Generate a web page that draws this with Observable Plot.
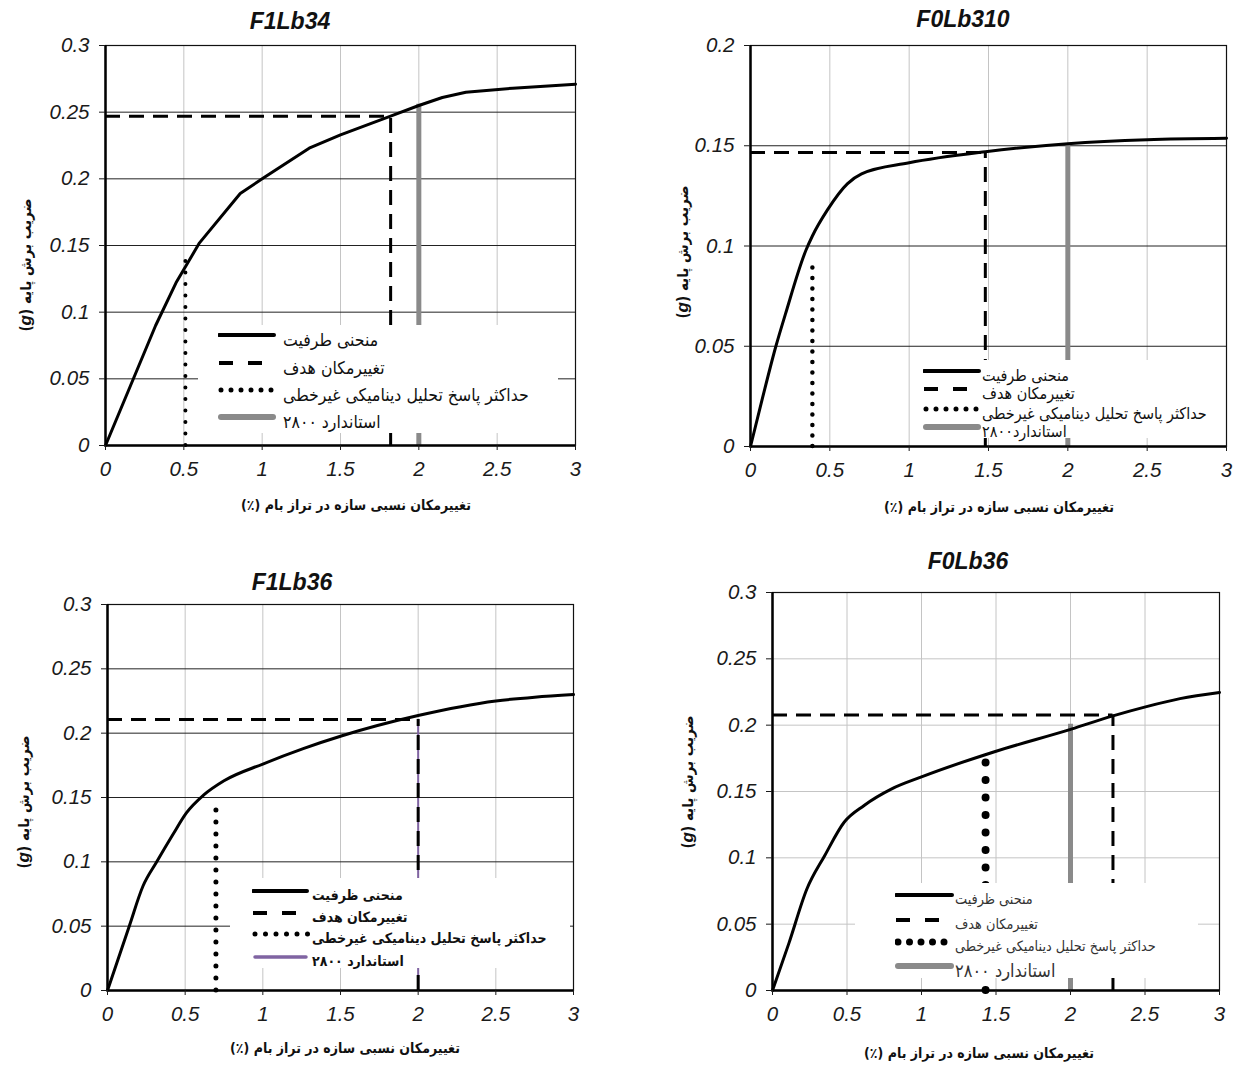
<!DOCTYPE html>
<html>
<head>
<meta charset="utf-8">
<script src="https://cdn.jsdelivr.net/npm/d3@7"></script>
<script src="https://cdn.jsdelivr.net/npm/@observablehq/plot@0.6"></script>
<style>
  html, body { margin: 0; padding: 0; background: #fff; }
  #root { position: relative; width: 1238px; height: 1066px; overflow: hidden; background: #fff; }
  .plotwrap { position: absolute; }
  .title { position: absolute; transform: translate(-50%, -50%); font-family: "Liberation Sans", Arial, sans-serif; font-weight: bold; font-style: italic; font-size: 23px; color: #111; white-space: nowrap; }
  .xlab { position: absolute; transform: translate(-50%, -50%); font-family: "DejaVu Sans", sans-serif; font-weight: bold; font-size: 14px; color: #111; white-space: nowrap; font-stretch: condensed; }
  .ylab { position: absolute; transform: translate(-50%, -50%) rotate(-90deg); font-family: "DejaVu Sans", sans-serif; font-weight: bold; font-size: 15px; color: #111; white-space: nowrap; font-stretch: condensed; }
  .ylab i { font-family: "Liberation Sans", Arial, sans-serif; font-weight: bold; font-style: italic; font-size: 17px; }
  .legend { position: absolute; background: #fff; }
  .legend .txt { position: absolute; font-family: "DejaVu Sans", sans-serif; white-space: nowrap; direction: rtl; transform: translateY(-50%); font-stretch: condensed; color: #111; }
</style>
</head>
<body>
<div id="root"></div>
<script>
// ---------- shared ticks / labels ----------
const xTicks = [0, 0.5, 1, 1.5, 2, 2.5, 3];
const yTicks03 = [0, 0.05, 0.1, 0.15, 0.2, 0.25, 0.3];
const yTicks02 = [0, 0.05, 0.1, 0.15, 0.2];
const xLabel = "تغییرمکان نسبی سازه در تراز بام (٪)";
const yLabel = "ضریب برش پایه";
const legendCapacityA = "منحنی طرفیت";
const legendCapacityB = "منحنی ظرفیت";
const legendTarget = "تغییرمکان هدف";
const legendNonlinear = "حداکثر پاسخ تحلیل دینامیکی غیرخطی";
const legendStandardA = "استاندارد ۲۸۰۰";
const legendStandardB = "استاندارد۲۸۰۰";

// ---------- panel 1: F1Lb34 ----------
const p1Title = "F1Lb34";
const p1Drift = [0, 0.16, 0.32, 0.45, 0.6, 0.86, 1.0, 1.3, 1.5, 1.82, 2.0, 2.15, 2.3, 2.6, 3.0];
const p1Shear = [0, 0.045, 0.09, 0.122, 0.152, 0.189, 0.2, 0.223, 0.233, 0.247, 0.255, 0.261, 0.265, 0.268, 0.271];
const p1Target = [1.82, 0.247];
const p1Nonlinear = [0.51, 0.146];
const p1Standard = [2.0, 0.256];

// ---------- panel 2: F0Lb310 ----------
const p2Title = "F0Lb310";
const p2Drift = [0, 0.075, 0.16, 0.22, 0.35, 0.39, 0.485, 0.61, 0.7, 1.0, 1.48, 2.0, 2.5, 3.0];
const p2Shear = [0, 0.024, 0.05, 0.066, 0.098, 0.105, 0.118, 0.131, 0.136, 0.1415, 0.147, 0.151, 0.153, 0.1537];
const p2Target = [1.48, 0.1466];
const p2Nonlinear = [0.39, 0.094];
const p2Standard = [2.0, 0.151];

// ---------- panel 3: F1Lb36 ----------
const p3Title = "F1Lb36";
const p3Drift = [0, 0.14, 0.228, 0.317, 0.42, 0.508, 0.62, 0.75, 1.0, 1.26, 1.51, 2.0, 2.5, 2.75, 3.0];
const p3Shear = [0, 0.05, 0.081, 0.1, 0.121, 0.138, 0.152, 0.163, 0.176, 0.188, 0.198, 0.2137, 0.225, 0.228, 0.23];
const p3Target = [2.0, 0.2106];
const p3Nonlinear = [0.698, 0.143];
const p3Standard = [2.0, 0.2106];

// ---------- panel 4: F0Lb36 ----------
const p4Title = "F0Lb36";
const p4Drift = [0, 0.111, 0.23, 0.35, 0.482, 0.615, 0.8, 1.0, 1.49, 2.006, 2.285, 2.51, 2.735, 3.0];
const p4Shear = [0, 0.0359, 0.0763, 0.1016, 0.127, 0.1395, 0.152, 0.161, 0.18, 0.197, 0.207, 0.214, 0.22, 0.2247];
const p4Target = [2.285, 0.2077];
const p4Nonlinear = [1.43, 0.178];
const p4Standard = [2.0, 0.2007];

const root = document.getElementById("root");

function addDiv(cls, html, left, top, extraStyle) {
  const d = document.createElement("div");
  d.className = cls;
  d.innerHTML = html;
  d.style.left = left + "px";
  d.style.top = top + "px";
  if (extraStyle) Object.assign(d.style, extraStyle);
  root.appendChild(d);
  return d;
}

function panel(cfg) {
  const data = cfg.drift.map((x, i) => ({x, y: cfg.shear[i]}));
  const [tx, ty] = cfg.target;
  const [nx, ny] = cfg.nonlinear;
  const [sx, sy] = cfg.standard;
  const plot = Plot.plot({
    width: cfg.W, height: cfg.H,
    marginLeft: cfg.mL, marginRight: cfg.mR, marginTop: cfg.mT, marginBottom: cfg.mB,
    x: {domain: [0, 3]},
    y: {domain: cfg.yDomain},
    style: {fontFamily: "'Liberation Sans', Arial, sans-serif", fontSize: "20.5px", fontStyle: "italic", color: "#1a1a1a", background: "transparent", overflow: "visible"},
    marks: [
      Plot.gridX(xTicks, {stroke: "#c4c4c4", strokeOpacity: 1, strokeWidth: 1}),
      Plot.gridY(cfg.yTicks, {stroke: cfg.hGrid, strokeOpacity: 1, strokeWidth: 1}),
      Plot.frame({stroke: "#111", strokeWidth: 1.2}),
      Plot.ruleX([{x: sx, y: sy}], {x: "x", y1: 0, y2: "y", stroke: cfg.stdColor, strokeWidth: cfg.stdWidth}),
      Plot.ruleX([{x: nx, y: ny}], {x: "x", y1: 0, y2: "y", stroke: "#000", strokeWidth: cfg.dotSize, strokeDasharray: `0 ${cfg.dotGap}`, strokeLinecap: "round"}),
      Plot.ruleY([{x: tx, y: ty}], {y: "y", x1: 0, x2: "x", stroke: "#000", strokeWidth: 3, strokeDasharray: "15 9"}),
      Plot.ruleX([{x: tx, y: ty}], {x: "x", y1: 0, y2: "y", stroke: "#000", strokeWidth: 3, strokeDasharray: "15 9"}),
      Plot.line(data, {x: "x", y: "y", stroke: "#000", strokeWidth: 3, curve: cfg.curve}),
      Plot.ruleX([0], {stroke: "#000", strokeWidth: 2.5}),
      Plot.ruleY([0], {stroke: "#000", strokeWidth: 2.5}),
      Plot.axisX({ticks: xTicks, tickSize: 5, tickPadding: 11, tickFormat: d => String(d), label: null}),
      Plot.axisY({ticks: cfg.yTicks, tickSize: 6, tickPadding: 10, tickFormat: d => String(d), label: null})
    ]
  });
  const wrap = document.createElement("div");
  wrap.className = "plotwrap";
  wrap.style.left = cfg.L + "px";
  wrap.style.top = cfg.T + "px";
  wrap.appendChild(plot);
  root.appendChild(wrap);

  addDiv("title", cfg.title, cfg.titleX, cfg.titleY);
  addDiv("xlab", xLabel, cfg.xlabX, cfg.xlabY, {direction: "rtl"});
  addDiv("ylab", `<span dir="rtl">${yLabel} (<i>g</i>)</span>`, cfg.ylabX, cfg.ylabY);

  // legend box
  const lg = cfg.legend;
  const box = addDiv("legend", "", lg.x, lg.y, {width: lg.w + "px", height: lg.h + "px"});
  const items = [
    {text: cfg.capText, kind: "solid"},
    {text: legendTarget, kind: "dash"},
    {text: legendNonlinear, kind: "dot"},
    {text: cfg.stdText, kind: "std"}
  ];
  items.forEach((it, i) => {
    const ry = lg.rows[i];
    const sw = lg.sw;
    let line = "";
    if (it.kind === "solid") line = `<line x1="1" x2="${sw - 1}" y1="6" y2="6" stroke="#000" stroke-width="4" stroke-linecap="round"/>`;
    if (it.kind === "dash") line = `<line x1="1" x2="${sw - 10}" y1="6" y2="6" stroke="#000" stroke-width="4" stroke-dasharray="14 15"/>`;
    if (it.kind === "dot") line = `<line x1="3" x2="${sw}" y1="6" y2="6" stroke="#000" stroke-width="${lg.dot}" stroke-dasharray="0 ${lg.dotGap}" stroke-linecap="round"/>`;
    if (it.kind === "std") line = `<line x1="3" x2="${sw - 2}" y1="6" y2="6" stroke="${cfg.stdColor}" stroke-width="${cfg.legendStdWidth}" stroke-linecap="round"/>`;
    const s = document.createElementNS("http://www.w3.org/2000/svg", "svg");
    s.setAttribute("width", sw + 2);
    s.setAttribute("height", 12);
    s.style.position = "absolute";
    s.style.left = lg.sx + "px";
    s.style.top = (ry - 6) + "px";
    s.innerHTML = line;
    box.appendChild(s);
    const t = document.createElement("div");
    t.className = "txt";
    t.textContent = it.text;
    t.style.left = lg.tx + "px";
    t.style.top = (ry + lg.tdy) + "px";
    t.style.fontSize = (i === 3 && lg.lastFont ? lg.lastFont : lg.font) + "px";
    t.style.fontWeight = lg.weight;
    t.style.color = lg.color;
    box.appendChild(t);
  });
}

panel({
  title: p1Title, drift: p1Drift, shear: p1Shear, target: p1Target, nonlinear: p1Nonlinear, standard: p1Standard,
  L: 0, T: 0, W: 619, H: 530, mL: 105, mR: 44, mT: 45, mB: 85,
  yDomain: [0, 0.3], yTicks: yTicks03, hGrid: "#222", curve: "linear",
  stdColor: "#8a8a8a", stdWidth: 5, legendStdWidth: 6, dotSize: 4, dotGap: 11.5,
  titleX: 290, titleY: 21, xlabX: 356, xlabY: 505, ylabX: 26, ylabY: 265,
  capText: legendCapacityA, stdText: legendStandardA,
  legend: {x: 198, y: 325, w: 360, h: 108, sx: 20, sw: 57, tx: 85, rows: [10, 38, 65, 92], tdy: 5, font: 17.5, weight: "normal", color: "#111", dot: 5, dotGap: 10}
});

panel({
  title: p2Title, drift: p2Drift, shear: p2Shear, target: p2Target, nonlinear: p2Nonlinear, standard: p2Standard,
  L: 619, T: 0, W: 619, H: 530, mL: 131, mR: 12, mT: 45, mB: 84,
  yDomain: [0, 0.2], yTicks: yTicks02, hGrid: "#222", curve: "monotone-x",
  stdColor: "#8a8a8a", stdWidth: 5, legendStdWidth: 6, dotSize: 4.5, dotGap: 10.5,
  titleX: 963, titleY: 19, xlabX: 999, xlabY: 507, ylabX: 683, ylabY: 252,
  capText: legendCapacityA, stdText: legendStandardB,
  legend: {x: 915, y: 360, w: 300, h: 78, sx: 8, sw: 57, tx: 67, rows: [11, 29, 49, 67], tdy: 4, font: 16, weight: "normal", color: "#111", dot: 5, dotGap: 10}
});

panel({
  title: p3Title, drift: p3Drift, shear: p3Shear, target: p3Target, nonlinear: p3Nonlinear, standard: p3Standard,
  L: 0, T: 540, W: 619, H: 526, mL: 107, mR: 46, mT: 64, mB: 76,
  yDomain: [0, 0.3], yTicks: yTicks03, hGrid: "#222", curve: "monotone-x",
  stdColor: "#8064a2", stdWidth: 2, legendStdWidth: 3.5, dotSize: 5, dotGap: 12,
  titleX: 292, titleY: 582, xlabX: 345, xlabY: 1048, ylabX: 24, ylabY: 802,
  capText: legendCapacityB, stdText: legendStandardA,
  legend: {x: 230, y: 878, w: 340, h: 90, sx: 22, sw: 56, tx: 82, rows: [13, 35, 56, 79], tdy: 4, font: 14, weight: "bold", color: "#111", dot: 5, dotGap: 10.5}
});

panel({
  title: p4Title, drift: p4Drift, shear: p4Shear, target: p4Target, nonlinear: p4Nonlinear, standard: p4Standard,
  L: 619, T: 540, W: 619, H: 526, mL: 153, mR: 19, mT: 52, mB: 76,
  yDomain: [0, 0.3], yTicks: yTicks03, hGrid: "#c4c4c4", curve: "monotone-x",
  stdColor: "#8a8a8a", stdWidth: 5, legendStdWidth: 6, dotSize: 8, dotGap: 17.5,
  titleX: 968, titleY: 561, xlabX: 979, xlabY: 1053, ylabX: 688, ylabY: 782,
  capText: legendCapacityB, stdText: legendStandardA,
  legend: {x: 855, y: 883, w: 343, h: 95, sx: 40, sw: 58, tx: 100, rows: [12, 37, 59, 83], tdy: 4, font: 14.3, lastFont: 18, weight: "normal", color: "#333", dot: 7, dotGap: 11.5}
});
</script>
</body>
</html>
